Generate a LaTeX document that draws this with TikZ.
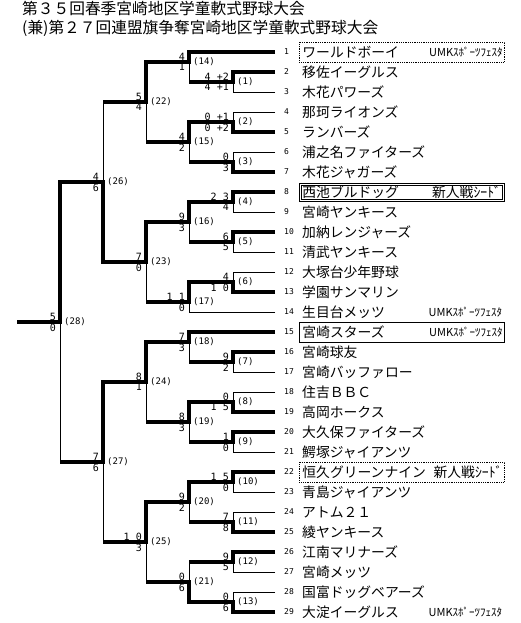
\documentclass[tikz,border=0pt]{standalone}
\usepackage{fontspec}
\setmainfont{Noto Sans CJK JP}
\newfontfamily\scorefont{DejaVu Sans Mono}

\tikzset{
  win/.style={line width=3.6pt, line join=miter},
  lose/.style={line width=0.9pt},
  team/.style={anchor=west, inner xsep=3pt, inner ysep=0pt, minimum height=20pt,
    text width=199pt, align=left, font=\fontsize{13.8}{14}\selectfont},
  nobox/.style={},
  dotbox/.style={draw, densely dotted, line width=0.8pt},
  dblbox/.style={draw, line width=0.8pt, minimum height=18pt},
  solidbox/.style={draw, line width=0.9pt},
  num/.style={anchor=west, inner sep=0pt, font=\scorefont\fontsize{8}{9}\selectfont},
  score/.style={inner sep=0pt, text depth=0pt, font=\scorefont\fontsize{10}{11}\selectfont},
  matchno/.style={anchor=west, inner sep=0pt, font=\scorefont\fontsize{9}{10}\selectfont},
  umk/.style={anchor=east, inner sep=0pt, font=\fontsize{11}{12}\selectfont},
  seed/.style={anchor=east, inner sep=0pt, font=\fontsize{13.8}{14}\selectfont},
  title/.style={anchor=base west, inner sep=0pt, font=\fontsize{15.7}{17}\selectfont}
}

\begin{document}
\begin{tikzpicture}[x=1pt,y=-1pt]
\useasboundingbox (0,0) rectangle (521,623);

% title
\node[title] (title1) at (22,15) {第３５回春季宮崎地区学童軟式野球大会};
\node[title] (title2) at (22,34) {(兼)第２７回連盟旗争奪宮崎地区学童軟式野球大会};

% teams: line end, number, name
\foreach \i/\tname/\bx in {1/ワールドボーイ/dotbox, 2/移佐イーグルス/nobox,
    3/木花パワーズ/nobox, 4/那珂ライオンズ/nobox, 5/ランバーズ/nobox,
    6/浦之名ファイターズ/nobox, 7/木花ジャガーズ/nobox, 8/西池ブルドッグ/dblbox,
    9/宮崎ヤンキース/nobox, 10/加納レンジャーズ/nobox, 11/清武ヤンキース/nobox,
    12/大塚台少年野球/nobox, 13/学園サンマリン/nobox, 14/生目台メッツ/nobox,
    15/宮崎スターズ/solidbox, 16/宮崎球友/nobox, 17/宮崎バッファロー/nobox,
    18/住吉ＢＢＣ/nobox, 19/高岡ホークス/nobox, 20/大久保ファイターズ/nobox,
    21/鰐塚ジャイアンツ/nobox, 22/恒久グリーンナイン/dotbox, 23/青島ジャイアンツ/nobox,
    24/アトム２１/nobox, 25/綾ヤンキース/nobox, 26/江南マリナーズ/nobox,
    27/宮崎メッツ/nobox, 28/国富ドッグベアーズ/nobox, 29/大淀イーグルス/nobox}{
  \coordinate (t\i) at (275,{32+20*\i});
  \node[num] (n\i) at (284,{32+20*\i}) {\i};
  \node[team,\bx] (team\i) at (299,{32+20*\i}) {\tname};
}
% inner frame of the seeded team
\draw[line width=0.8pt] ([shift={(2.3pt,-2.3pt)}]team8.north west)
  rectangle ([shift={(-2.3pt,2.3pt)}]team8.south east);

% side notes
\node[umk] (tag1) at ([xshift=-2pt]team1.east) {UMKｽﾎﾟｰﾂﾌｪｽﾀ};
\node[seed] (tag8) at ([xshift=-3.5pt]team8.east) {新人戦ｼｰﾄﾞ};
\node[umk] (tag14) at ([xshift=-2pt]team14.east) {UMKｽﾎﾟｰﾂﾌｪｽﾀ};
\node[umk] (tag15) at ([xshift=-2pt]team15.east) {UMKｽﾎﾟｰﾂﾌｪｽﾀ};
\node[seed] (tag22) at ([xshift=-2pt]team22.east) {新人戦ｼｰﾄﾞ};
\node[umk] (tag29) at ([xshift=-2pt]team29.east) {UMKｽﾎﾟｰﾂﾌｪｽﾀ};

% match points
\foreach \k/\x/\y in {1/233/82, 2/233/122, 3/233/162, 4/233/202, 5/233/242,
    6/233/282, 7/233/362, 8/233/402, 9/233/442, 10/233/482, 11/233/522,
    12/233/562, 13/233/602, 14/189/62, 15/189/142, 16/189/222, 17/189/302,
    18/189/342, 19/189/422, 20/189/502, 21/189/582, 22/146/102, 23/146/262,
    24/146/382, 25/146/542, 26/103/182, 27/103/462, 28/60/322}
  \coordinate (m\k) at (\x,\y);
\coordinate (champ) at (17,322);

% match / winner / loser / next / upper score / lower score
\foreach \k/\w/\l/\p/\a/\b in {1/t2/t3/m14/{4 +2}/{4 +1}, 2/t5/t4/m15/{0 +1}/{0 +2},
    3/t7/t6/m15/0/3, 4/t8/t9/m16/{2 3}/4, 5/t10/t11/m16/6/5, 6/t13/t12/m17/4/{1 0},
    7/t16/t17/m18/9/2, 8/t19/t18/m19/0/{1 5}, 9/t20/t21/m19/1/0,
    10/t22/t23/m20/{1 5}/0, 11/t25/t24/m20/7/8, 12/t26/t27/m21/9/5,
    13/t29/t28/m21/0/6, 14/t1/m1/m22/4/1, 15/m2/m3/m22/4/2, 16/m4/m5/m23/9/3,
    17/m6/t14/m23/{1 1}/0, 18/t15/m7/m24/7/3, 19/m8/m9/m24/8/3,
    20/m10/m11/m25/9/2, 21/m13/m12/m25/0/6, 22/m14/m15/m26/5/4,
    23/m16/m17/m26/7/0, 24/m18/m19/m27/8/1, 25/m20/m21/m27/{1 0}/3,
    26/m23/m22/m28/4/6, 27/m24/m25/m28/7/6, 28/m26/m27/champ/5/0}{
  \draw[lose] (\l) -| (m\k);
  \draw[win] (\w) -| (m\k) -- (m\k -| \p);
  \node[score, anchor=south east] (su\k) at ([xshift=-4pt,yshift=1.5pt]m\k) {\a};
  \node[score, anchor=north east] (sl\k) at ([xshift=-4pt,yshift=-1.5pt]m\k) {\b};
  \node[matchno] (lab\k) at ([xshift=4pt]m\k) {(\k)};
}
\end{tikzpicture}
\end{document}
